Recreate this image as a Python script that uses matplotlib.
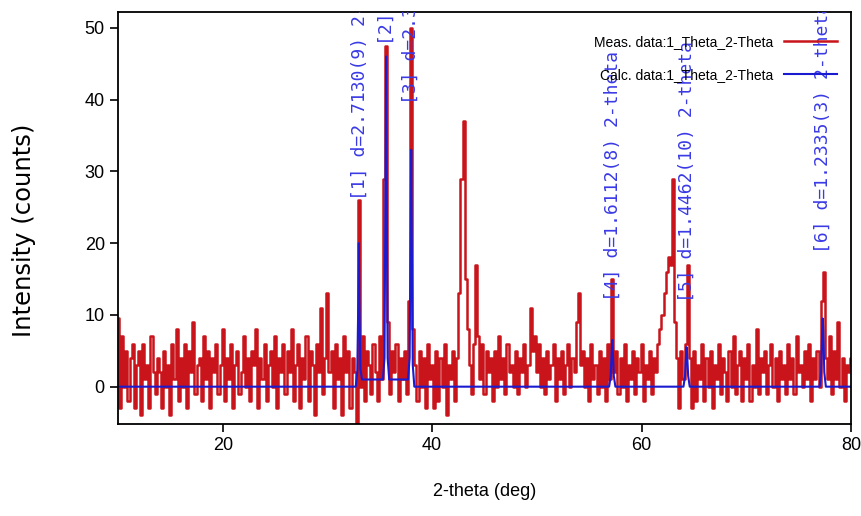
import numpy as np
import matplotlib
matplotlib.use("Agg")
import matplotlib.pyplot as plt

# measured pattern, 2-theta from 10 to 80 in 0.2 deg steps
meas_start = 10.0
meas_step = 0.2
meas_counts = [
    9.5, -3, 7, 0, 5, -2, 4, 6, -3, 3,
    5, -4, 6, 1, 3, -3, 7, 2, -1, 4,
    2, -3, 5, 0, 3, -4, 6, 1, 8, -2,
    4, 0, 6, -3, 5, 2, 9, -1, 3, 4,
    -2, 7, 1, 5, -3, 4, 2, 6, -1, 3,
    8, -2, 4, 1, 6, -3, 3, 5, -1, 2,
    7, 0, 4, -2, 5, 3, 8, -3, 4, 1,
    6, -2, 3, 5, 0, 7, -3, 4, 2, 6,
    -1, 5, 2, 8, -2, 3, 6, -3, 4, 1,
    7, -2, 5, 3, -4, 6, 2, 11, -1, 4,
    13, 2, 5, -3, 6, 1, 4, -4, 7, 2,
    5, -3, 4, 2, -5, 26, 0, 7, -2, 5,
    3, -1, 6, 2, -2, 7, 1, 29, 47.5, 9,
    -1, 5, 2, 6, -2, 4, 1, 5, -1, 12,
    50, 8, 3, -2, 5, 0, 4, -3, 6, 1,
    3, -3, 5, -2, 4, 0, 6, -4, 3, 1,
    5, -2, 4, 13, 29, 37, 15, 8, 3, -1,
    6, 17, 7, 1, 6, -1, 5, 2, 4, -2,
    5, 0, 7, 1, 4, -1, 6, 2, 3, 0,
    5, -1, 4, 2, 6, 0, 3, 11, 5, 7,
    2, 6, 0, 4, -1, 5, 1, 3, 6, -2,
    4, 1, 5, -1, 3, 6, 0, 4, 2, 9,
    13, 3, 5, 0, 4, -2, 6, 1, 3, -1,
    5, 0, 4, -2, 6, 1, 15, 2, 5, -1,
    4, 0, 6, -2, 3, 1, 5, -1, 4, 2,
    6, -2, 3, 1, 5, -1, 4, 2, 6, 8,
    10, 13, 16, 18, 17, 29, 9, 4, -3, 5,
    1, 6, 17, 4, -3, 5, -2, 3, 1, 6,
    -2, 4, 0, 5, -3, 3, 1, 6, -1, 4,
    2, -2, 5, 0, 7, -1, 3, 5, -2, 4,
    1, 6, -2, 3, 0, 8, -1, 4, 2, 5,
    -1, 3, 6, 0, 4, -2, 5, 1, 3, -1,
    6, 1, 4, -1, 7, 2, 3, 0, 5, 1,
    6, -2, 4, 1, 5, 0, 12, 16, 4, 1,
    7, -1, 5, 1, 9, 0, 4, -2, 3, 2,
    4,
]
meas_theta = meas_start + meas_step*np.arange(len(meas_counts))

# calculated pattern
calc_theta = [10, 32.7, 32.85, 32.95, 33.0, 33.05, 33.15, 33.3, 35.3, 35.45, 35.55, 35.6, 35.65,
              35.75, 35.9, 37.7, 37.85, 37.95, 38.0, 38.05, 38.15, 38.3, 56.9, 57.05, 57.15, 57.2,
              57.25, 57.35, 57.5, 64.0, 64.15, 64.25, 64.3, 64.35, 64.45, 64.6, 77.0, 77.15, 77.25,
              77.3, 77.35, 77.45, 77.6, 80]
calc_counts = [0, 0, 2, 12, 20, 12, 2.5, 1, 1, 4, 30, 46, 30, 4, 1, 1, 4, 22, 33, 22, 3, 0, 0, 1.5,
               5, 6.5, 5, 1.5, 0, 0, 1.5, 4.5, 5.5, 4.5, 1.5, 0, 0, 2, 8, 9.5, 8, 2, 0, 0]

# reflection labels
peak_pos = [33.1, 35.7, 38.0, 57.2, 64.35, 77.3]
peak_lab_y = [26, 47.6, 39.4, 12, 11.8, 18.6]
peak_lab = ["[1] d=2.7130(9) 2-",
            "[2] d=2",
            "[3] d=2.3",
            "[4] d=1.6112(8) 2-theta",
            "[5] d=1.4462(10) 2-theta",
            "[6] d=1.2335(3) 2-theta"]

sans = ['Liberation Sans', 'DejaVu Sans']

fig = plt.figure(figsize=(8.61, 5.16), dpi=100)
ax = fig.add_axes([118/861, 1-424/516, (851-118)/861, (424-12)/516])

ax.plot(meas_theta, meas_counts, color='#c8141a', lw=1.8, drawstyle='steps-mid',
        label="Meas. data:1_Theta_2-Theta")
ax.plot(calc_theta, calc_counts, color='#1a1ad0', lw=1.5, label="Calc. data:1_Theta_2-Theta")

for x, y, s in zip(peak_pos, peak_lab_y, peak_lab):
    ax.text(x, y, s, rotation=90, ha='center', va='bottom', color='#3a3ae6',
            family='DejaVu Sans Mono', fontsize=13, clip_on=True)

ax.set_xlim(10, 80)
ax.set_ylim(-5.2, 52.2)
ax.set_xticks([20, 40, 60, 80])
ax.set_yticks([0, 10, 20, 30, 40, 50])
ax.tick_params(direction='out', length=6, width=1.2, labelsize=13)
for lab in ax.get_xticklabels() + ax.get_yticklabels():
    lab.set_family(sans)
for sp in ax.spines.values():
    sp.set_linewidth(1.3)

ax.set_xlabel("2-theta (deg)", fontsize=13, family=sans)
ax.xaxis.set_label_coords(0.5, -0.143)
ax.set_ylabel("Intensity (counts)", fontsize=17.5, family='DejaVu Sans')
ax.yaxis.set_label_coords(-0.112, 0.47)

leg = ax.legend(loc='upper right', bbox_to_anchor=(1.0, 0.978), frameon=False,
                markerfirst=False, handlelength=3.8, handletextpad=0.8, labelspacing=1.35,
                borderaxespad=0.6, prop={'family': sans, 'size': 10})

plt.savefig("out.png", dpi=100)
